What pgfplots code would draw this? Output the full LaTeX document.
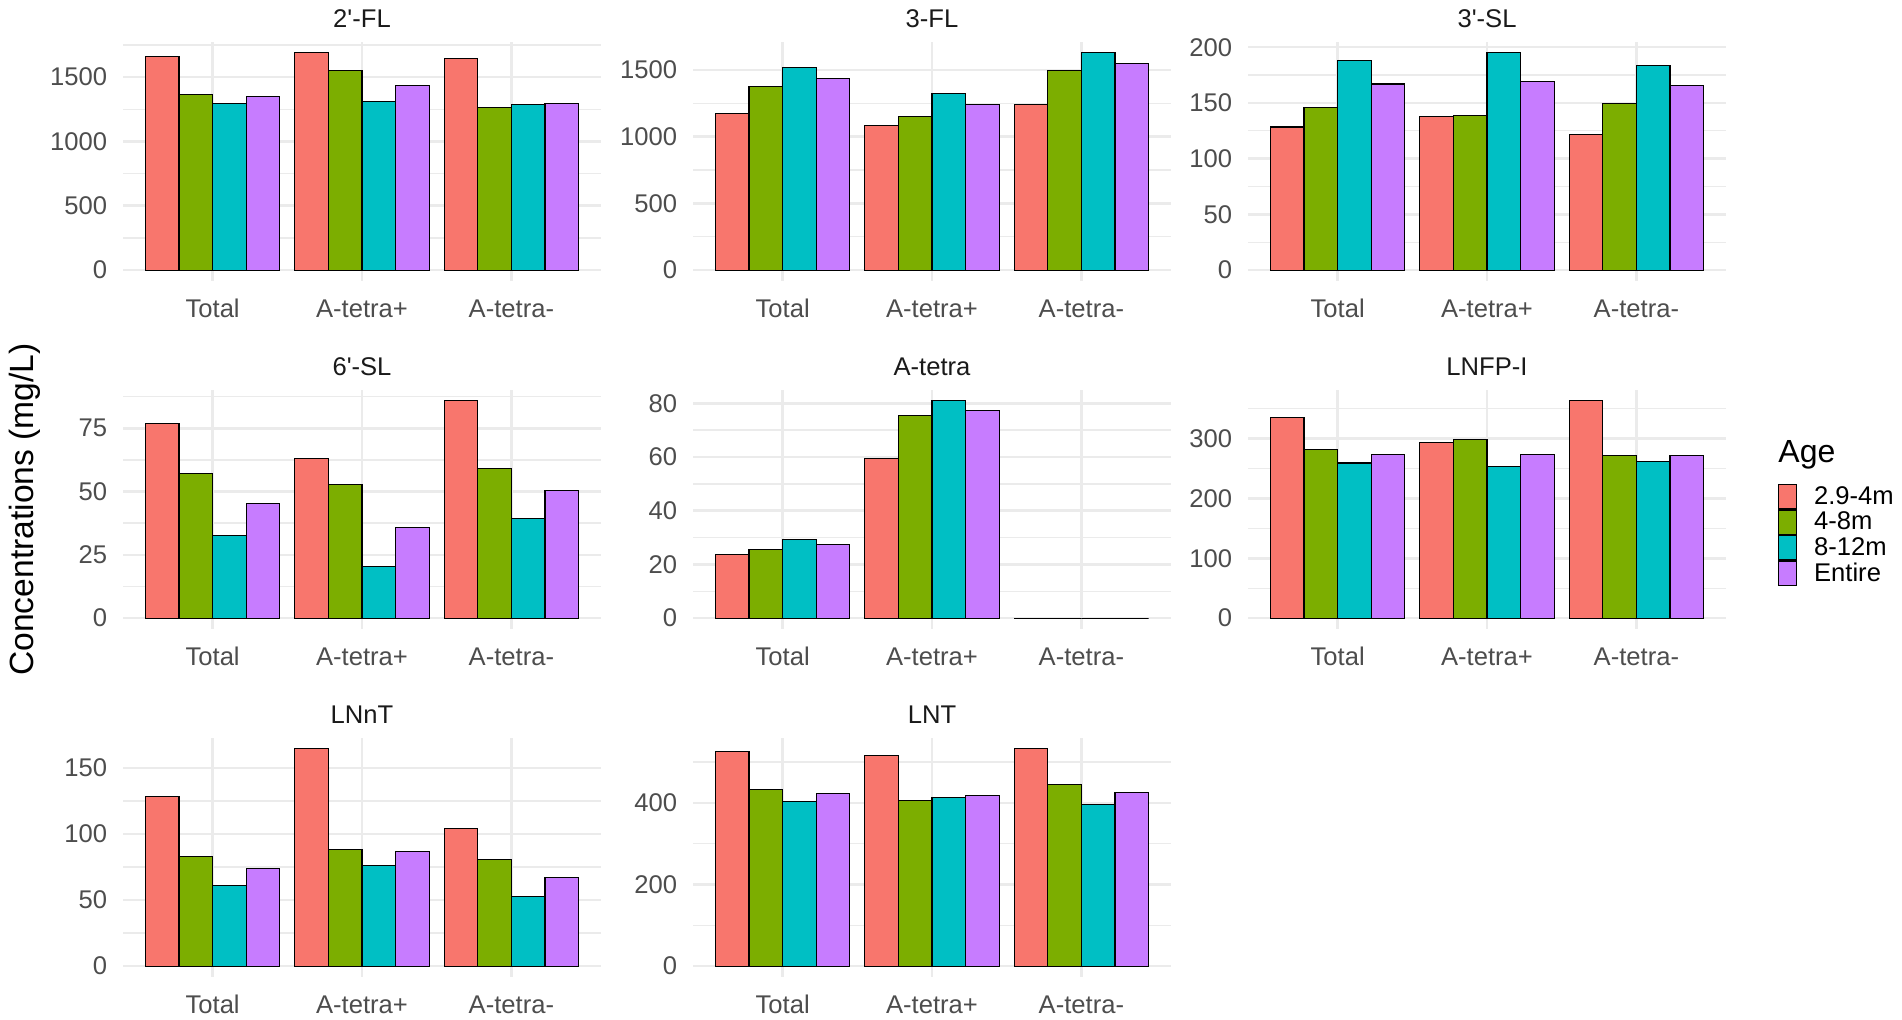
\documentclass[border=0pt]{standalone}
\usepackage{fontspec}
\newfontfamily\lib{Liberation Sans}
\usepackage{pgfplots}
\usepackage{pgfplotstable}
\pgfplotsset{compat=1.18}
\definecolor{c1}{HTML}{F8766D}
\definecolor{c2}{HTML}{7CAE00}
\definecolor{c3}{HTML}{00BFC4}
\definecolor{c4}{HTML}{C77CFF}
\definecolor{gridc}{HTML}{EBEBEB}
\definecolor{axt}{HTML}{4D4D4D}
\definecolor{stript}{HTML}{1A1A1A}

\pgfplotstableread{
x a b c d
0 1663 1362 1298 1347
1 1688 1554 1313 1432
2 1647 1264 1287 1297
}\tTwoFL
\pgfplotstableread{
x a b c d
0 1175 1375 1517 1437
1 1085 1150 1325 1240
2 1240 1492 1627 1550
}\tThreeFL
\pgfplotstableread{
x a b c d
0 128.4 145.8 187.7 167.0
1 137.7 138.9 194.9 169.2
2 121.9 149.1 183.2 165.6
}\tThreeSL
\pgfplotstableread{
x a b c d
0 76.7 57.0 32.5 45.2
1 63.2 52.7 20.4 35.8
2 85.8 59.2 39.3 50.3
}\tSixSL
\pgfplotstableread{
x a b c d
0 23.7 25.7 29.4 27.5
1 59.6 75.4 80.9 77.3
2 0 0 0 0
}\tAtetra
\pgfplotstableread{
x a b c d
0 335.6 281.0 259.0 272.8
1 293.9 297.8 253.3 273.9
2 362.8 271.7 261.7 271.1
}\tLNFP
\pgfplotstableread{
x a b c d
0 128.8 83.3 61.4 74.2
1 164.6 88.6 76.0 86.6
2 104.5 80.8 52.7 67.0
}\tLNnT
\pgfplotstableread{
x a b c d
0 524.8 432.7 403.3 422.0
1 515.0 406.5 412.3 417.0
2 532.3 445.8 396.8 425.4
}\tLNT

\pgfplotsset{
  panel/.style={
    scale only axis, width=239pt, height=119.5pt,
    anchor=south west,
    xmin=-0.6, xmax=2.6, xtick={0,1,2},
    xticklabels={Total,A-tetra+,A-tetra-},
    axis line style={draw=none},
    major tick length=0pt, minor tick length=0pt,
    xmajorgrids, ymajorgrids, yminorgrids,
    major grid style={draw=gridc, line width=1.3pt},
    minor grid style={draw=gridc, line width=0.7pt},
    tick label style={font=\lib\fontsize{12.8}{15}\selectfont, text=axt},
    yticklabel style={anchor=east, inner sep=0pt, xshift=-7.8pt},
    xticklabel style={anchor=base, inner sep=0pt, yshift=-18pt},
    /pgf/number format/assume math mode=true,
    /pgf/number format/1000 sep={},
    every axis title/.style={at={(0.5,1)}, anchor=base, inner sep=0pt, yshift=7.3pt,
      font=\lib\fontsize{12.8}{15}\selectfont, text=stript},
  },
  mybar/.style={ybar, bar width=0.225, fill=#1, draw=black, line width=0.55pt,
    legend image code/.code={\draw[##1] (0pt,-6.1pt) rectangle (9pt,6.1pt); \path (17.5pt,0pt);}},
}
\newcommand{\bars}[1]{%
  \addplot[mybar=c1, bar shift=-0.3375] table[x=x,y=a]{#1};
  \addplot[mybar=c2, bar shift=-0.1125] table[x=x,y=b]{#1};
  \addplot[mybar=c3, bar shift=0.1125] table[x=x,y=c]{#1};
  \addplot[mybar=c4, bar shift=0.3375] table[x=x,y=d]{#1};
}

\begin{document}
\begin{tikzpicture}
\path[use as bounding box] (0pt,0pt) rectangle (951pt,-509.5pt);

% Row 1
\begin{axis}[panel, at={(61.5pt,-140.5pt)}, title={2'-FL},
  ymin=-84.4, ymax=1772.4, ytick={0,500,1000,1500}, minor ytick={250,750,1250,1750}]
\bars{\tTwoFL}
\end{axis}
\begin{axis}[panel, at={(346.5pt,-140.5pt)}, title={3-FL},
  ymin=-81.35, ymax=1708.35, ytick={0,500,1000,1500}, minor ytick={250,750,1250}]
\bars{\tThreeFL}
\end{axis}
\begin{axis}[panel, at={(624pt,-140.5pt)}, title={3'-SL},
  ymin=-9.745, ymax=204.645, ytick={0,50,100,150,200}, minor ytick={25,75,125,175}]
\bars{\tThreeSL}
\end{axis}

% Row 2
\begin{axis}[panel, at={(61.5pt,-314.5pt)}, title={6'-SL},
  ymin=-4.29, ymax=90.09, ytick={0,25,50,75}, minor ytick={12.5,37.5,62.5,87.5}]
\bars{\tSixSL}
\end{axis}
\begin{axis}[panel, at={(346.5pt,-314.5pt)}, title={A-tetra},
  ymin=-4.045, ymax=84.945, ytick={0,20,40,60,80}, minor ytick={10,30,50,70}]
\bars{\tAtetra}
\end{axis}
\begin{axis}[panel, at={(624pt,-314.5pt)}, title={LNFP-I},
  ymin=-18.14, ymax=380.94, ytick={0,100,200,300}, minor ytick={50,150,250,350},
  legend style={draw=none, fill=none, at={(1.1088,0.6067)}, anchor=north west,
    inner sep=0pt, outer sep=0pt, row sep=0pt,
    nodes={inner sep=0pt, font=\lib\fontsize{12.8}{15}\selectfont, text=black}},
  legend cell align=left]
\bars{\tLNFP}
\legend{2.9-4m,4-8m,8-12m,Entire}
\end{axis}

% Row 3
\begin{axis}[panel, at={(61.5pt,-488.5pt)}, title={LNnT},
  ymin=-8.23, ymax=172.83, ytick={0,50,100,150}, minor ytick={25,75,125}]
\bars{\tLNnT}
\end{axis}
\begin{axis}[panel, at={(346.5pt,-488.5pt)}, title={LNT},
  ymin=-26.6, ymax=558.9, ytick={0,200,400}, minor ytick={100,300,500}]
\bars{\tLNT}
\end{axis}

\node[rotate=90, anchor=base, inner sep=0pt, font=\lib\fontsize{16.8}{20}\selectfont]
  at (16.5pt,-254.75pt) {Concentrations (mg/L)};
\node[anchor=base west, inner sep=0pt, font=\lib\fontsize{16}{19}\selectfont]
  at (889pt,-231.35pt) {Age};
\end{tikzpicture}
\end{document}
